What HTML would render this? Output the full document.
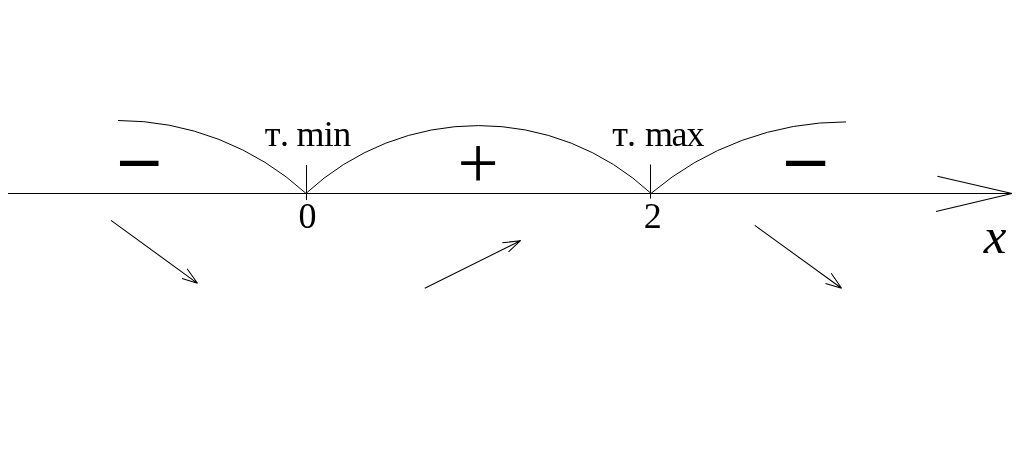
<!DOCTYPE html>
<html lang="ru">
<head>
<meta charset="utf-8">
<title>т. min, т. max</title>
<style>
html,body{margin:0;padding:0;background:#fff;}
body{width:1024px;height:475px;overflow:hidden;}
svg{display:block;will-change:transform;font-family:"Liberation Serif",serif;fill:#000;}
.ln{stroke:#000;stroke-width:1;fill:none;stroke-linecap:butt;}
.dg{stroke:#000;stroke-width:1.05;fill:none;stroke-linecap:butt;stroke-linejoin:bevel;}
</style>
</head>
<body>
<svg width="1024" height="475" viewBox="0 0 1024 475">
<rect x="0" y="0" width="1024" height="475" fill="#fff"/>
<!-- axis -->
<path class="ln" d="M8 193.5 L1012 193.5"/>
<path class="dg" d="M937.4 176.2 L1012 193.5 L936 211.4"/>
<!-- ticks -->
<path class="ln" d="M306.5 165 L306.5 200"/>
<path class="ln" d="M650.5 164.5 L650.5 198.5"/>
<!-- arcs -->
<path class="ln" d="M118 120.5 A278.9 278.9 0 0 1 306 193.4"/>
<path class="ln" d="M306 193.4 A253.3 253.3 0 0 1 651 193.4"/>
<path class="ln" d="M651 193.4 A301.7 301.7 0 0 1 846 121.9"/>
<!-- arrows -->
<path class="dg" d="M111 220.4 L197.5 283.3 M187.1 268.7 L197.5 283.3 L182 278.6"/>
<path class="dg" d="M424.8 288.2 L520.5 240.7 M502.3 242.8 L520.5 240.7 L508.5 251.9"/>
<path class="dg" d="M754.8 225.4 L841.6 288.3 M831.2 273.3 L841.6 288.3 L825.5 283.6"/>
<!-- labels -->
<text x="264.85 279.9 288.9 296.5 323.7 333.3" y="146" font-size="36">т. min</text>
<text x="612.3 627 636 644.9 671.5 686.6" y="146" font-size="36">т. max</text>
<text x="298.6" y="228" font-size="36">0</text>
<text x="643.7" y="228" font-size="36">2</text>
<text x="983.7" y="253" font-size="51" font-style="italic">x</text>
<!-- signs -->
<text x="120.5" y="181.3" font-size="75" font-weight="bold">–</text>
<text x="457.4" y="187.7" font-size="73">+</text>
<text x="786.5" y="181.4" font-size="76.5" font-weight="bold">–</text>
</svg>
</body>
</html>
